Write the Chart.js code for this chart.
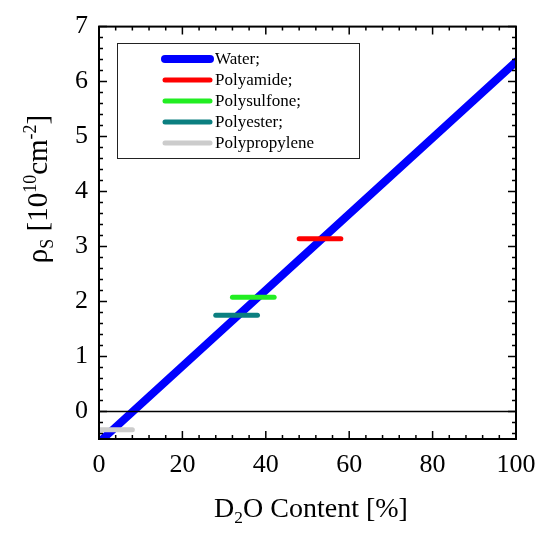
<!DOCTYPE html>
<html>
<head>
<meta charset="utf-8">
<script src="https://cdn.jsdelivr.net/npm/chart.js@4.4.1/dist/chart.umd.min.js"></script>
<style>
  html, body { margin: 0; padding: 0; background: #fff; }
  #wrap { width: 550px; height: 537px; }
</style>
</head>
<body>
<div id="wrap"><canvas id="chart" width="550" height="537"></canvas></div>
<script>
// données
const waterX = [0, 100];
const waterY = [-0.56, 6.36];
const polyamideX = [48, 58];
const polyamideY = [3.14, 3.14];
const polysulfoneX = [32, 42];
const polysulfoneY = [2.08, 2.08];
const polyesterX = [28, 38];
const polyesterY = [1.75, 1.75];
const polypropyleneX = [0, 8];
const polypropyleneY = [-0.33, -0.33];

const xTicks = [0, 20, 40, 60, 80, 100];
const yTicks = [0, 1, 2, 3, 4, 5, 6, 7];
const xMinorStep = 4;
const yMinorStep = 0.2;

const FONT = "'Liberation Serif', 'Times New Roman', serif";

function pts(xs, ys) {
    return xs.map((x, i) => ({ x: x, y: ys[i] }));
}

function seg(label, xs, ys, color, width, order) {
    return {
        label: label,
        data: pts(xs, ys),
        showLine: true,
        order: order,
        borderColor: color,
        backgroundColor: color,
        borderWidth: width,
        borderCapStyle: 'round',
        pointRadius: 0,
        pointHoverRadius: 0
    };
}

// texte avec indices / exposants
function richText(ctx, parts, x, y, size, align) {
    const widths = parts.map(p => {
        ctx.font = (p.s ? size * 0.62 : size) + "px " + FONT;
        return ctx.measureText(p.t).width;
    });
    const total = widths.reduce((a, b) => a + b, 0);
    let cx = align === 'center' ? x - total / 2 : x;
    parts.forEach((p, i) => {
        let dy = 0;
        if (p.s === 'sub') dy = size * 0.22;
        if (p.s === 'sup') dy = -size * 0.38;
        ctx.font = (p.s ? size * 0.62 : size) + "px " + FONT;
        ctx.fillText(p.t, cx, y + dy);
        cx += widths[i];
    });
}

const decor = {
    id: 'decor',
    afterDatasetsDraw(chart) {
        const ctx = chart.ctx;
        const a = chart.chartArea;
        const xs = chart.scales.x, ys = chart.scales.y;
        ctx.save();
        ctx.strokeStyle = '#000';
        ctx.lineWidth = 1.5;

        // ligne zéro
        ctx.beginPath();
        ctx.moveTo(a.left, ys.getPixelForValue(0));
        ctx.lineTo(a.right, ys.getPixelForValue(0));
        ctx.stroke();

        // graduations vers l'intérieur
        ctx.beginPath();
        for (let v = xs.min; v <= xs.max + 1e-9; v += xMinorStep) {
            const px = xs.getPixelForValue(v);
            const len = xTicks.includes(Math.round(v)) ? 8 : 4;
            ctx.moveTo(px, a.bottom); ctx.lineTo(px, a.bottom - len);
            ctx.moveTo(px, a.top); ctx.lineTo(px, a.top + len);
        }
        for (let k = 0; ; k++) {
            const v = -0.4 + k * yMinorStep;
            if (v > ys.max + 1e-9) break;
            const py = ys.getPixelForValue(v);
            const major = Math.abs(v - Math.round(v)) < 1e-6;
            const len = major ? 8 : 4;
            ctx.moveTo(a.left, py); ctx.lineTo(a.left + len, py);
            ctx.moveTo(a.right, py); ctx.lineTo(a.right - len, py);
        }
        ctx.stroke();

        // cadre
        ctx.lineWidth = 2;
        ctx.strokeRect(a.left, a.top, a.right - a.left, a.bottom - a.top);

        // légende
        ctx.lineWidth = 1;
        ctx.strokeStyle = '#222';
        ctx.fillStyle = '#fff';
        ctx.fillRect(117, 43, 242, 115);
        ctx.strokeRect(117.5, 43.5, 242, 115);
        chart.data.datasets.forEach((ds, i) => {
            const y = 59 + i * 21;
            ctx.strokeStyle = ds.borderColor;
            ctx.lineWidth = ds.borderWidth;
            ctx.lineCap = 'round';
            ctx.beginPath();
            ctx.moveTo(165, y); ctx.lineTo(210, y);
            ctx.stroke();
            ctx.fillStyle = '#000';
            ctx.font = "17px " + FONT;
            ctx.textAlign = 'left';
            ctx.textBaseline = 'middle';
            ctx.fillText(ds.label, 215, y + 1);
        });

        // titres des axes
        ctx.fillStyle = '#000';
        ctx.textAlign = 'left';
        ctx.textBaseline = 'alphabetic';
        richText(ctx, [{ t: 'D' }, { t: '2', s: 'sub' }, { t: 'O Content [%]' }], 311, 517, 28, 'center');

        ctx.translate(47, 189);
        ctx.rotate(-Math.PI / 2);
        richText(ctx, [{ t: '\u03C1' }, { t: 'S', s: 'sub' }, { t: ' [10' }, { t: '10', s: 'sup' },
                       { t: 'cm' }, { t: '-2', s: 'sup' }, { t: ']' }], 0, 0, 29, 'center');
        ctx.restore();
    }
};

new Chart(document.getElementById('chart'), {
    type: 'scatter',
    data: {
        datasets: [
            seg('Water;', waterX, waterY, '#0000ff', 8, 2),
            seg('Polyamide;', polyamideX, polyamideY, '#ff0000', 5, 1),
            seg('Polysulfone;', polysulfoneX, polysulfoneY, '#22ee22', 5, 1),
            seg('Polyester;', polyesterX, polyesterY, '#0b7f80', 5, 1),
            seg('Polypropylene', polypropyleneX, polypropyleneY, '#cccccc', 5, 1)
        ]
    },
    options: {
        responsive: false,
        animation: false,
        layout: { padding: { top: 23, right: 34, left: 0, bottom: 0 } },
        plugins: { legend: { display: false }, tooltip: { enabled: false } },
        scales: {
            x: {
                type: 'linear', min: 0, max: 100,
                grid: { display: false, drawTicks: false },
                border: { display: false },
                afterBuildTicks: s => { s.ticks = xTicks.map(v => ({ value: v })); },
                afterFit: s => { s.height = 98; },
                ticks: { color: '#000', padding: 11, maxRotation: 0, font: { family: FONT, size: 26 } }
            },
            y: {
                type: 'linear', min: -0.5, max: 7,
                grid: { display: false, drawTicks: false },
                border: { display: false },
                afterBuildTicks: s => { s.ticks = yTicks.map(v => ({ value: v })); },
                afterFit: s => { s.width = 99; },
                ticks: { color: '#000', padding: 11, font: { family: FONT, size: 26 } }
            }
        }
    },
    plugins: [decor]
});
</script>
</body>
</html>
